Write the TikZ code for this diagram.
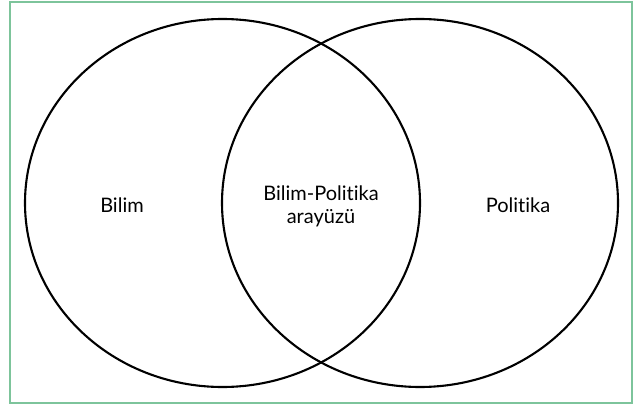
\documentclass[tikz,border=0pt]{standalone}
\usepackage{fontspec}
\setmainfont[Ligatures={NoCommon}]{Lato}
\usetikzlibrary{positioning}
\definecolor{framegreen}{RGB}{125,196,155}

\begin{document}
\begin{tikzpicture}[x=1pt, y=1pt, line width=2.1pt,
    label/.style={font=\fontsize{20}{23}\selectfont, align=center}]
    \useasboundingbox (0, 0) rectangle (637, 408);
    \draw [framegreen, line width=1.3pt] (10, 5) rectangle (632, 406);

    % circles
    \draw (222.5, 205) ellipse [x radius=197.5, y radius=184];
    \draw (420, 205) ellipse [x radius=198, y radius=184];

    \node (bilim) [label] at (122, 203) {Bilim};
    \node (arayuz) [label] at (321, 202) {Bilim-Politika\\arayüzü};
    \node (politika) [label] at (518, 203) {Politika};
\end{tikzpicture}
\end{document}
